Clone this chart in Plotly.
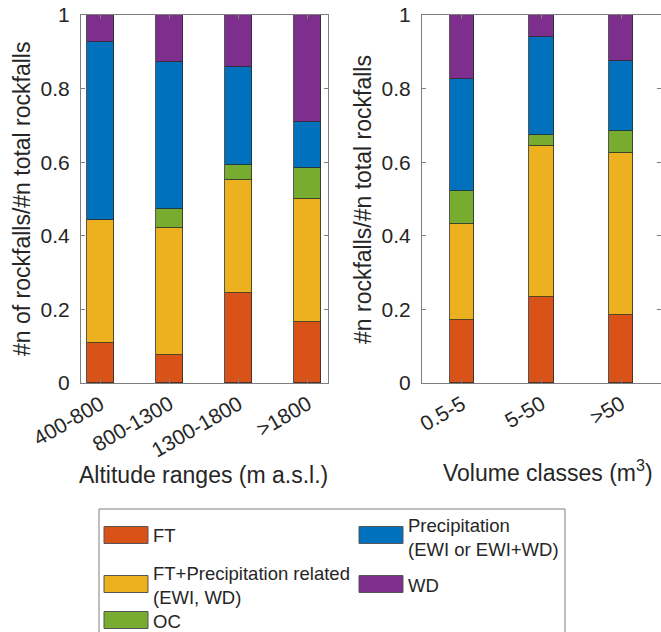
import plotly.graph_objects as go

# Share of rockfalls per triggering-factor class
altitude_ranges = ["400-800", "800-1300", "1300-1800", ">1800"]
alt_ft = [0.110, 0.077, 0.244, 0.166]
alt_ft_precip = [0.333, 0.343, 0.307, 0.334]
alt_oc = [0.000, 0.052, 0.041, 0.084]
alt_precip = [0.484, 0.399, 0.267, 0.124]
alt_wd = [0.073, 0.129, 0.141, 0.292]

volume_classes = ["0.5-5", "5-50", ">50"]
vol_ft = [0.172, 0.235, 0.185]
vol_ft_precip = [0.261, 0.410, 0.439]
vol_oc = [0.088, 0.030, 0.061]
vol_precip = [0.304, 0.265, 0.190]
vol_wd = [0.175, 0.060, 0.125]

series_names = ["FT", "FT+Precipitation related (EWI, WD)", "OC",
                "Precipitation (EWI or EWI+WD)", "WD"]
series_colors = ["#D95319", "#EDB120", "#77AC30", "#0072BD", "#7E2F8E"]

legend_labels = ["FT", "FT+Precipitation related<br>(EWI, WD)", "OC",
                 "Precipitation<br>(EWI or EWI+WD)", "WD"]

W, H = 661, 632
FONT = "Liberation Sans, Arial, Helvetica, sans-serif"
TXT = "#262626"
AX = "#7f7f7f"


def px(x):
    return x / W


def py(y):
    return 1 - y / H


fig = go.Figure()

alt_series = [alt_ft, alt_ft_precip, alt_oc, alt_precip, alt_wd]
vol_series = [vol_ft, vol_ft_precip, vol_oc, vol_precip, vol_wd]
alt_pos = list(range(1, len(altitude_ranges) + 1))
vol_pos = list(range(1, len(volume_classes) + 1))

for name, color, vals in zip(series_names, series_colors, alt_series):
    fig.add_trace(go.Bar(x=alt_pos, y=vals, name=name, width=0.39,
                         marker=dict(color=color, line=dict(color="#2a2a2a", width=0.8)),
                         xaxis="x", yaxis="y", showlegend=False))

for name, color, vals in zip(series_names, series_colors, vol_series):
    fig.add_trace(go.Bar(x=vol_pos, y=vals, name=name, width=0.305,
                         marker=dict(color=color, line=dict(color="#2a2a2a", width=0.8)),
                         xaxis="x2", yaxis="y2", showlegend=False))

yticks = [0, 0.2, 0.4, 0.6, 0.8, 1]
ytext = ["0", "0.2", "0.4", "0.6", "0.8", "1"]

common_x = dict(showline=True, linecolor=AX, linewidth=1, mirror="ticks",
                ticks="inside", ticklen=4, tickcolor=AX, showgrid=False,
                zeroline=False, tickangle=-30, automargin=False,
                tickfont=dict(family=FONT, size=21, color=TXT))
common_y = dict(showline=True, linecolor=AX, linewidth=1, mirror="ticks",
                ticks="inside", ticklen=4, tickcolor=AX, showgrid=False,
                zeroline=False, range=[0, 1], tickvals=yticks, ticktext=ytext,
                ticklabelstandoff=6, automargin=False,
                tickfont=dict(family=FONT, size=21, color=TXT))

fig.update_layout(
    width=W, height=H, margin=dict(l=0, r=0, t=0, b=0, autoexpand=False),
    template="none",
    paper_bgcolor="white", plot_bgcolor="white",
    barmode="stack", bargap=0,
    font=dict(family=FONT, color=TXT),
    xaxis=dict(domain=[px(81), px(328)], range=[0.72, 4.29],
               tickvals=alt_pos, ticktext=altitude_ranges, anchor="y", **common_x),
    yaxis=dict(domain=[py(383), py(15)], anchor="x", **common_y),
    xaxis2=dict(domain=[px(422), 1.0], range=[0.5, 3.5],
                tickvals=vol_pos, ticktext=volume_classes, anchor="y2", **common_x),
    yaxis2=dict(domain=[py(383), py(15)], anchor="x2", **common_y),
)


def title(text, x, y, angle=0):
    fig.add_annotation(x=px(x), y=py(y), xref="paper", yref="paper",
                       text=text, textangle=angle, showarrow=False,
                       xanchor="center", yanchor="middle",
                       font=dict(family=FONT, size=23, color=TXT))


# Axis titles
title("#n of rockfalls/#n total rockfalls", 22, 199, -90)
title("#n rockfalls/#n total rockfalls", 363, 200, -90)
title("Altitude ranges (m a.s.l.)", 203.5, 475)
title("Volume classes (m<sup>3</sup>)", 547.5, 471)

# Legend box with swatches in two columns
fig.add_shape(type="rect", xref="paper", yref="paper",
              x0=px(99), x1=px(565), y0=py(660), y1=py(509),
              line=dict(color=AX, width=1), fillcolor="white", layer="below")

legend_slots = [  # (swatch x, swatch center y, text center y)
    (104, 535, 535),
    (104, 584, 585),
    (104, 620, 621),
    (359, 535, 537),
    (359, 584, 585),
]
for (sx, sy, ty), label, color in zip(legend_slots, legend_labels, series_colors):
    fig.add_shape(type="rect", xref="paper", yref="paper",
                  x0=px(sx), x1=px(sx + 44), y0=py(sy + 8.5), y1=py(sy - 8.5),
                  line=dict(color="#555555", width=1), fillcolor=color)
    fig.add_annotation(x=px(sx + 47), y=py(ty), xref="paper", yref="paper",
                       text=label, showarrow=False, xanchor="left", yanchor="middle",
                       align="left",
                       font=dict(family=FONT, size=18.5, color=TXT))

fig.write_html("out.html")
